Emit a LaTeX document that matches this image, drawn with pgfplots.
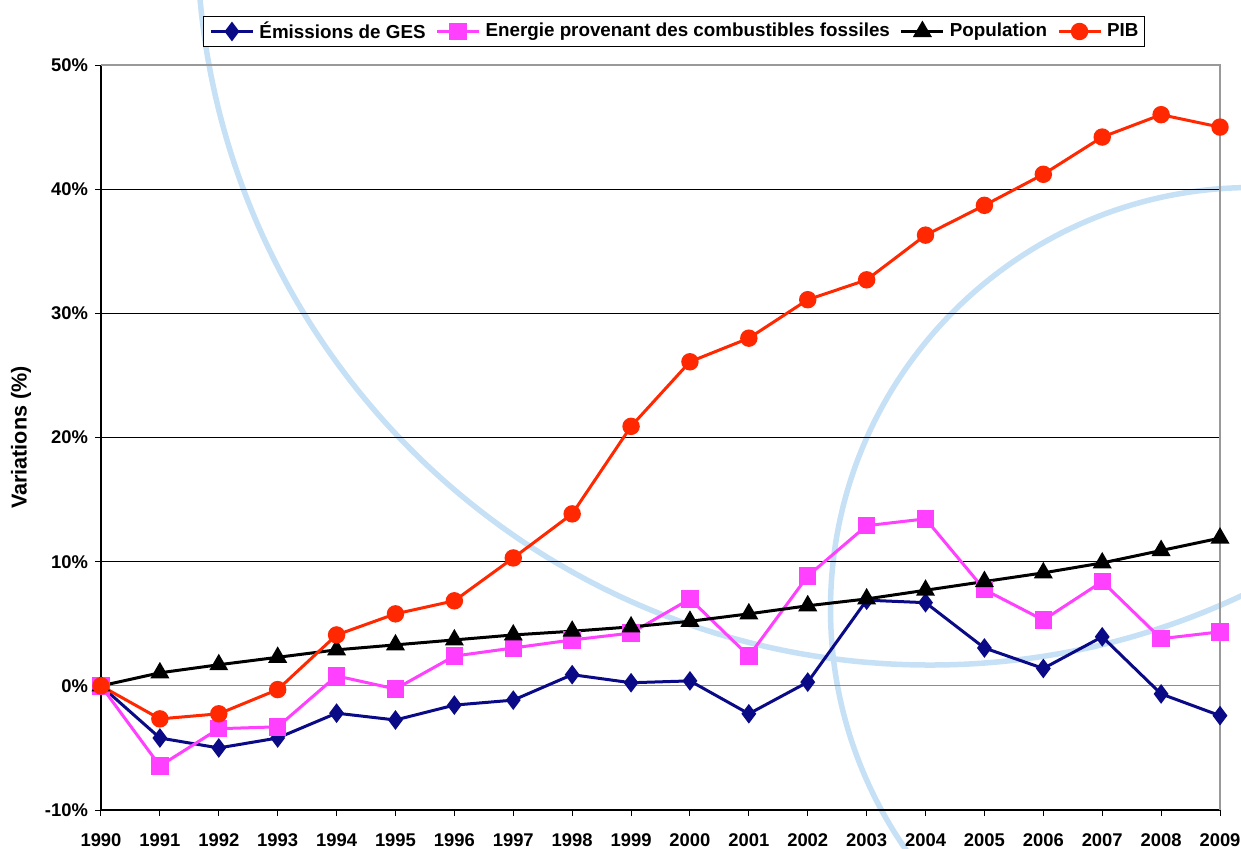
\documentclass[border=0pt]{standalone}
\usepackage{pgfplots}
\pgfplotsset{compat=1.18}
\usepackage{fontspec}
\setmainfont{Liberation Sans}
\definecolor{ges}{RGB}{10,10,135}
\definecolor{ener}{RGB}{255,64,255}
\definecolor{pib}{RGB}{255,40,0}
\definecolor{arcblue}{RGB}{198,224,246}
\begin{document}
\begin{tikzpicture}
\useasboundingbox (0,0) rectangle (620.5pt,-424pt);
\begin{scope}
\clip (0,0) rectangle (620.5pt,-424pt);
\draw[arcblue, line width=2.75pt] (465pt,34pt) circle[radius=366.5pt];
\draw[arcblue, line width=2.75pt] (626pt,-304.5pt) circle[radius=210.75pt];
\end{scope}
\begin{axis}[
  at={(50.5pt,-405pt)}, anchor=south west,
  scale only axis, width=559.5pt, height=372.5pt,
  xmin=1990, xmax=2009, ymin=-10, ymax=50,
  axis x line*=bottom, axis y line*=left,
  axis line style={black, line width=0.6pt},
  xtick={1990,1991,1992,1993,1994,1995,1996,1997,1998,1999,2000,2001,2002,2003,2004,2005,2006,2007,2008,2009},
  xticklabels={1990,1991,1992,1993,1994,1995,1996,1997,1998,1999,2000,2001,2002,2003,2004,2005,2006,2007,2008,2009},
  ytick={-10,0,10,20,30,40,50},
  yticklabels={-10\%,0\%,10\%,20\%,30\%,40\%,50\%},
  tick align=outside, major tick length=3pt,
  tick style={black, line width=0.5pt},
  ymajorgrids=true,
  major grid style={black, line width=0.5pt},
  ticklabel style={font=\bfseries\fontsize{9.2pt}{10pt}\selectfont},
  xticklabel style={yshift=-5.5pt},
  ylabel={Variations (\%)},
  ylabel style={font=\bfseries\fontsize{10.8pt}{12pt}\selectfont, at={(axis description cs:-0.0715,0.5)}, anchor=center},
  legend columns=4,
  legend style={at={(0.512,1.045)}, anchor=center, draw=black, line width=0.5pt,
    font=\bfseries\fontsize{9.4pt}{11pt}\selectfont, inner xsep=3pt, inner ysep=2.5pt,
    nodes={inner sep=0pt},
    /tikz/every odd column/.append style={column sep=2.5pt},
    /tikz/every even column/.append style={column sep=5pt}},
  legend image code/.code={\draw[mark repeat=2,mark phase=2] plot coordinates {(0pt,0pt) (10.5pt,0pt) (21pt,0pt)};},
  clip=false,
]
\draw[gray!80, line width=0.6pt] (rel axis cs:0,1) -- (rel axis cs:1,1) -- (rel axis cs:1,0);
\draw[gray!90, line width=0.6pt] (axis cs:1990,0) -- (axis cs:2009,0);
\addplot[ges, line width=1.5pt, mark=diamond*, mark size=3.7pt, mark options={solid}] coordinates {
(1990,0) (1991,-4.2) (1992,-5.0) (1993,-4.2) (1994,-2.2) (1995,-2.75) (1996,-1.55) (1997,-1.15) (1998,0.9) (1999,0.25)
(2000,0.4) (2001,-2.25) (2002,0.3) (2003,6.9) (2004,6.7) (2005,3.05) (2006,1.4) (2007,3.95) (2008,-0.65) (2009,-2.4)};
\addlegendentry{Émissions de GES}
\addplot[ener, line width=1.5pt, mark=square*, mark size=3.6pt] coordinates {
(1990,0) (1991,-6.45) (1992,-3.45) (1993,-3.3) (1994,0.8) (1995,-0.25) (1996,2.4) (1997,3.05) (1998,3.7) (1999,4.25)
(2000,7.0) (2001,2.4) (2002,8.85) (2003,12.9) (2004,13.45) (2005,7.75) (2006,5.3) (2007,8.4) (2008,3.8) (2009,4.35)};
\addlegendentry{Energie provenant des combustibles fossiles}
\addplot[black, line width=1.5pt, mark=triangle*, mark size=4pt] coordinates {
(1990,0) (1991,1.05) (1992,1.7) (1993,2.3) (1994,2.9) (1995,3.3) (1996,3.7) (1997,4.1) (1998,4.4) (1999,4.75)
(2000,5.2) (2001,5.8) (2002,6.45) (2003,7.0) (2004,7.7) (2005,8.4) (2006,9.1) (2007,9.9) (2008,10.9) (2009,11.9)};
\addlegendentry{Population}
\addplot[pib, line width=1.5pt, mark=*, mark size=3.6pt] coordinates {
(1990,0) (1991,-2.66) (1992,-2.25) (1993,-0.3) (1994,4.1) (1995,5.8) (1996,6.85) (1997,10.3) (1998,13.85) (1999,20.9)
(2000,26.1) (2001,28.0) (2002,31.1) (2003,32.7) (2004,36.3) (2005,38.7) (2006,41.2) (2007,44.2) (2008,46.0) (2009,45.0)};
\addlegendentry{PIB}
\end{axis}
\end{tikzpicture}
\end{document}
